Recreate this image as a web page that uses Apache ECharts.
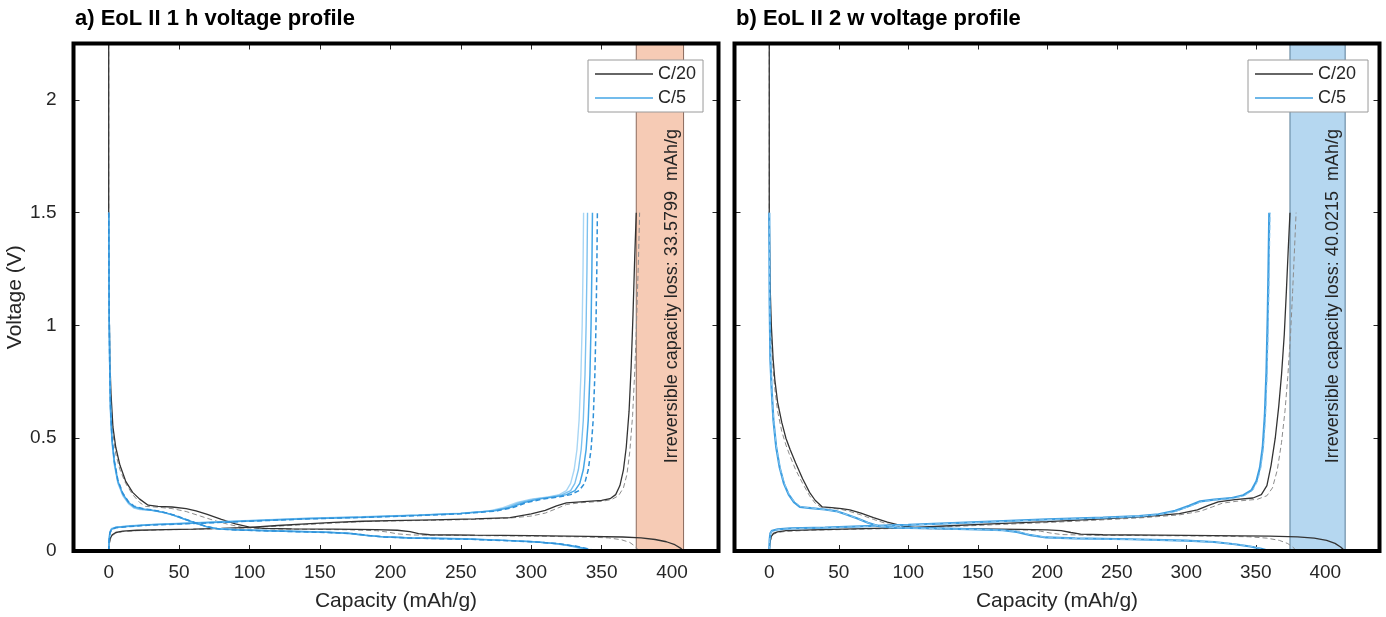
<!DOCTYPE html>
<html>
<head>
<meta charset="utf-8">
<script src="https://cdn.jsdelivr.net/npm/echarts@6/dist/echarts.min.js"></script>
<style>
  html, body { margin: 0; padding: 0; background: #fff; }
  #main { width: 1386px; height: 617px; }
</style>
</head>
<body>
<div id="main"></div>
<script>
// ---- axis ticks ----
const capTicks = [0, 50, 100, 150, 200, 250, 300, 350, 400]
const voltTicks = [0, 0.5, 1, 1.5, 2]
const panelTitles = ['a) EoL II 1 h voltage profile', 'b) EoL II 2 w voltage profile']

// ---- irreversible capacity loss (start / end capacity, mAh/g) ----
const aLossRange = [374.6, 408.2]
const bLossRange = [374.6, 414.3]
const lossValues = ['33.5799', '40.0215']

// ---- panel a : C/20 (solid + dashed repeat), [capacity, voltage] ----
const aC20Dis = [[0,2.25],[0,1.5],[0.3,1.1],[0.8,0.85],[1.6,0.7],[3,0.55],[5,0.46],[8,0.38],[12,0.31],[17,0.26],[22,0.23],[28,0.203],[35,0.198],[45,0.195],[55,0.188],[62,0.178],[70,0.162],[80,0.14],[90,0.12],[100,0.106],[110,0.1],[130,0.098],[160,0.097],[190,0.095],[205,0.092],[214,0.086],[220,0.077],[228,0.072],[260,0.07],[300,0.068],[340,0.065],[365,0.062],[378,0.058],[388,0.051],[396,0.041],[402,0.028],[406,0.013],[408.2,0]]
const aC20Chg = [[0,0],[0.3,0.03],[1,0.055],[2.5,0.072],[5,0.082],[10,0.088],[20,0.092],[40,0.095],[60,0.097],[80,0.1],[100,0.105],[120,0.113],[140,0.12],[160,0.127],[180,0.132],[200,0.135],[230,0.138],[260,0.142],[285,0.148],[300,0.165],[310,0.18],[318,0.2],[325,0.213],[335,0.218],[350,0.224],[356,0.232],[360,0.25],[363,0.29],[365.5,0.36],[367.5,0.46],[369.5,0.62],[371,0.82],[372.3,1.05],[373.5,1.3],[374.6,1.5]]
const aC20Dis2 = [[0,2.25],[0,1.5],[0.3,1.05],[0.8,0.82],[1.6,0.66],[3,0.52],[5,0.43],[8,0.36],[12,0.3],[17,0.25],[22,0.215],[26,0.198],[35,0.194],[45,0.188],[55,0.175],[65,0.155],[75,0.135],[85,0.118],[95,0.105],[110,0.098],[140,0.096],[170,0.094],[190,0.09],[198,0.084],[205,0.076],[215,0.071],[250,0.069],[300,0.066],[340,0.062],[355,0.058],[364,0.05],[370,0.038],[374,0.02],[376.5,0]]
const aC20Chg2 = [[0,0],[0.3,0.025],[1,0.05],[2.5,0.068],[5,0.079],[10,0.086],[20,0.09],[40,0.094],[60,0.096],[80,0.099],[100,0.103],[120,0.11],[140,0.117],[160,0.124],[180,0.13],[200,0.133],[230,0.136],[260,0.14],[285,0.146],[300,0.155],[310,0.168],[318,0.188],[325,0.206],[335,0.214],[350,0.22],[357,0.228],[362,0.245],[365.5,0.28],[368,0.34],[370,0.44],[372,0.6],[373.7,0.82],[375,1.05],[376.2,1.3],[377,1.5]]

// ---- panel a : C/5 cycles ----
const aC5Dis1 = [[0,1.5],[0.3,1.05],[0.7,0.8],[1.3,0.6],[2.3,0.48],[4,0.38],[6.5,0.3],[10,0.245],[14,0.21],[18,0.19],[22,0.184],[30,0.18],[38,0.172],[45,0.16],[52,0.145],[60,0.127],[68,0.11],[76,0.1],[90,0.095],[120,0.09],[150,0.085],[168,0.08],[178,0.072],[190,0.065],[210,0.06],[250,0.055],[280,0.048],[300,0.042],[315,0.034],[327,0.023],[335,0.011],[340,0]]
const aC5Dis2 = [[0,1.5],[0.3,1.07],[0.7,0.82],[1.3,0.62],[2.3,0.49],[4,0.39],[6.5,0.305],[10,0.25],[14,0.213],[18,0.193],[23,0.185],[31,0.18],[39,0.171],[46,0.158],[53,0.143],[61,0.125],[69,0.109],[77,0.099],[92,0.094],[122,0.089],[152,0.084],[170,0.079],[180,0.071],[192,0.064],[212,0.059],[252,0.054],[282,0.047],[302,0.041],[317,0.033],[329,0.022],[337,0.01],[342,0]]
const aC5Dis3 = [[0,1.5],[0.3,1.08],[0.7,0.83],[1.3,0.63],[2.3,0.5],[4,0.395],[6.5,0.31],[10,0.253],[14,0.216],[18,0.196],[24,0.186],[32,0.18],[40,0.17],[47,0.157],[54,0.141],[62,0.123],[70,0.107],[78,0.098],[94,0.093],[124,0.088],[154,0.083],[172,0.078],[182,0.07],[194,0.063],[214,0.058],[254,0.053],[284,0.046],[304,0.04],[319,0.032],[331,0.021],[339,0.01],[344,0]]
const aC5Dis4 = [[0,1.5],[0.3,1.09],[0.7,0.84],[1.3,0.64],[2.3,0.51],[4,0.4],[6.5,0.315],[10,0.256],[14,0.219],[18,0.199],[25,0.187],[33,0.18],[41,0.169],[48,0.156],[55,0.14],[63,0.122],[71,0.106],[79,0.097],[96,0.092],[126,0.087],[156,0.082],[174,0.077],[184,0.069],[196,0.062],[216,0.057],[256,0.052],[286,0.045],[306,0.039],[321,0.031],[333,0.02],[341,0.009],[346,0]]
const aC5Chg1 = [[0,0],[0.3,0.05],[0.8,0.085],[2,0.1],[5,0.106],[15,0.112],[30,0.118],[60,0.125],[100,0.135],[140,0.145],[180,0.152],[220,0.16],[250,0.168],[270,0.178],[280,0.192],[290,0.215],[300,0.23],[312,0.24],[320,0.25],[325,0.268],[328,0.3],[330.5,0.36],[332.5,0.45],[334,0.58],[335.3,0.78],[336.2,1.0],[336.8,1.25],[337.2,1.5]]
const aC5Chg2 = [[0,0],[0.3,0.048],[0.8,0.083],[2,0.098],[5,0.105],[15,0.111],[30,0.117],[60,0.124],[100,0.134],[140,0.144],[180,0.151],[220,0.159],[250,0.167],[272,0.178],[283,0.193],[292,0.215],[302,0.23],[314,0.24],[322,0.25],[328,0.268],[331,0.3],[333.5,0.36],[335.5,0.45],[337,0.58],[338.2,0.78],[339,1.0],[339.6,1.25],[340,1.5]]
const aC5Chg3 = [[0,0],[0.3,0.046],[0.8,0.08],[2,0.096],[5,0.104],[15,0.11],[30,0.116],[60,0.123],[100,0.133],[140,0.143],[180,0.15],[220,0.158],[250,0.166],[274,0.178],[285,0.193],[295,0.215],[305,0.23],[317,0.24],[325,0.25],[331,0.268],[334.5,0.3],[337,0.36],[339,0.45],[340.5,0.58],[341.7,0.78],[342.5,1.0],[343.1,1.25],[343.5,1.5]]
const aC5Chg4 = [[0,0],[0.3,0.045],[0.8,0.078],[2,0.095],[5,0.103],[15,0.109],[30,0.115],[60,0.122],[100,0.132],[140,0.142],[180,0.149],[220,0.157],[250,0.165],[276,0.178],[287,0.193],[297,0.215],[308,0.23],[320,0.24],[328,0.25],[334,0.268],[338,0.3],[340.5,0.36],[342.5,0.45],[344,0.58],[345.2,0.78],[346,1.0],[346.6,1.25],[347,1.5]]

// ---- panel b : C/20 ----
const bC20Dis = [[0,2.25],[0,1.5],[0.5,1.2],[1.5,1.0],[2.8,0.85],[4,0.76],[6,0.66],[9,0.57],[12,0.5],[15,0.45],[19,0.39],[24,0.32],[29,0.26],[33,0.225],[38,0.196],[45,0.192],[52,0.188],[58,0.182],[66,0.168],[75,0.148],[85,0.128],[95,0.112],[105,0.103],[120,0.1],[150,0.098],[180,0.096],[200,0.094],[210,0.09],[217,0.082],[224,0.075],[240,0.072],[280,0.07],[320,0.068],[360,0.066],[380,0.063],[392,0.057],[401,0.047],[407,0.034],[411,0.018],[414.3,0]]
const bC20Chg = [[0,0],[0.5,0.04],[1.5,0.065],[3,0.078],[6,0.085],[12,0.09],[30,0.094],[60,0.098],[100,0.104],[130,0.112],[160,0.12],[200,0.13],[240,0.142],[270,0.152],[295,0.166],[308,0.182],[316,0.202],[323,0.218],[335,0.228],[348,0.235],[354,0.25],[358,0.29],[361,0.38],[364,0.5],[366.5,0.64],[368.5,0.78],[370.5,0.96],[372,1.15],[373.3,1.33],[374.6,1.5]]
const bC20Dis2 = [[0,2.25],[0,1.5],[0.5,1.15],[1.5,0.95],[2.8,0.8],[4,0.72],[6,0.62],[9,0.53],[12,0.47],[15,0.42],[19,0.36],[24,0.3],[29,0.245],[33,0.212],[37,0.195],[45,0.19],[52,0.184],[58,0.175],[66,0.16],[75,0.14],[85,0.12],[95,0.106],[105,0.1],[130,0.097],[160,0.095],[185,0.093],[195,0.088],[202,0.08],[210,0.073],[230,0.07],[280,0.068],[320,0.066],[345,0.063],[358,0.057],[367,0.047],[373,0.033],[377,0.016],[379,0]]
const bC20Chg2 = [[0,0],[0.5,0.035],[1.5,0.06],[3,0.074],[6,0.082],[12,0.087],[30,0.092],[60,0.096],[100,0.101],[130,0.108],[160,0.116],[200,0.126],[240,0.138],[270,0.148],[295,0.16],[310,0.176],[319,0.196],[326,0.212],[338,0.222],[351,0.229],[358,0.245],[362,0.28],[365.5,0.36],[368.5,0.48],[371,0.62],[373,0.77],[375,0.96],[376.5,1.15],[377.8,1.33],[379,1.5]]

// ---- panel b : C/5 ----
const bC5Dis1 = [[0,1.5],[0.3,1.1],[0.8,0.85],[1.7,0.72],[3,0.58],[5,0.46],[7.5,0.37],[10.5,0.3],[14,0.25],[18,0.215],[22,0.195],[30,0.19],[40,0.184],[48,0.177],[55,0.163],[63,0.145],[71,0.125],[79,0.11],[90,0.104],[120,0.1],[150,0.096],[168,0.092],[178,0.085],[188,0.07],[199,0.06],[220,0.056],[260,0.052],[300,0.046],[320,0.04],[335,0.03],[346,0.02],[354,0.01],[360,0]]
const bC5Chg1 = [[0,0],[0.3,0.05],[0.8,0.078],[2,0.09],[6,0.096],[15,0.1],[40,0.104],[70,0.11],[100,0.116],[150,0.128],[200,0.14],[240,0.148],[266,0.155],[280,0.163],[292,0.178],[302,0.2],[310,0.22],[320,0.228],[332,0.234],[341,0.247],[347,0.27],[350.5,0.31],[353,0.37],[355,0.46],[356.5,0.6],[357.7,0.8],[358.6,1.05],[359.2,1.28],[359.7,1.5]]
const bC5Dis2 = [[0,1.5],[0.3,1.12],[0.8,0.87],[1.7,0.73],[3,0.59],[5,0.47],[7.5,0.375],[10.5,0.305],[14,0.254],[18,0.218],[23,0.196],[31,0.19],[41,0.183],[49,0.175],[56,0.161],[64,0.143],[72,0.123],[80,0.109],[92,0.103],[122,0.099],[152,0.095],[170,0.091],[180,0.084],[190,0.069],[201,0.059],[222,0.055],[262,0.051],[302,0.045],[322,0.039],[337,0.029],[348,0.019],[355,0.009],[361,0]]
const bC5Chg2 = [[0,0],[0.3,0.048],[0.8,0.076],[2,0.089],[6,0.095],[15,0.099],[40,0.103],[70,0.109],[100,0.115],[150,0.127],[200,0.139],[240,0.147],[266,0.154],[281,0.162],[293,0.177],[303,0.199],[311,0.219],[321,0.227],[333,0.233],[342,0.246],[348,0.27],[351.3,0.31],[353.7,0.37],[355.6,0.46],[357.1,0.6],[358.3,0.8],[359.2,1.05],[359.8,1.28],[360.3,1.5]]

const BLACK = '#333333'
const GREY = '#8c8c8c'
const FONT = 'Liberation Sans, Arial, sans-serif'

const chart = echarts.init(document.getElementById('main'))

// 一条曲线
function curve (name, data, idx, color, width, dashed, z) {
  return {
    name: name,
    type: 'line',
    xAxisIndex: idx,
    yAxisIndex: idx,
    data: data,
    symbol: 'none',
    silent: true,
    z: z || 2,
    lineStyle: { color: color, width: width, type: dashed ? [5, 3] : 'solid' },
    itemStyle: { color: color }
  }
}

// 不可逆容量损失的阴影区
function lossArea (range, fill, border) {
  return {
    silent: true,
    itemStyle: { color: fill, borderColor: border, borderWidth: 1 },
    label: { show: false },
    data: [[{ xAxis: range[0] }, { xAxis: range[1] }]]
  }
}

const grids = [
  { left: 73.5, top: 43.5, width: 645, height: 508 },
  { left: 734.5, top: 43.5, width: 645, height: 508 }
]

function xAx (gi, max, pos) {
  const bottom = pos === 'bottom'
  return {
    type: 'value', gridIndex: gi, position: pos, min: -25, max: max,
    name: bottom ? 'Capacity (mAh/g)' : '',
    nameLocation: 'middle', nameGap: 40,
    nameTextStyle: { fontSize: 21, color: '#262626', fontFamily: FONT },
    axisLine: { show: false, onZero: false },
    axisTick: { show: true, inside: true, length: 6, customValues: capTicks, lineStyle: { color: '#262626', width: 1 } },
    axisLabel: { show: bottom, customValues: capTicks, fontSize: 19, color: '#262626', margin: 12, fontFamily: FONT },
    splitLine: { show: false }
  }
}

function yAx (gi, pos, labels) {
  return {
    type: 'value', gridIndex: gi, position: pos, min: 0, max: 2.25,
    name: labels ? 'Voltage (V)' : '',
    nameLocation: 'middle', nameGap: 36,
    nameTextStyle: { fontSize: 21, color: '#262626', fontFamily: FONT },
    axisLine: { show: false, onZero: false },
    axisTick: { show: true, inside: true, length: 6, customValues: voltTicks, lineStyle: { color: '#262626', width: 1 } },
    axisLabel: { show: labels, customValues: voltTicks, fontSize: 19, color: '#262626', margin: 17, fontFamily: FONT },
    splitLine: { show: false }
  }
}

function legendAt (left, names) {
  return {
    left: left, top: 60, orient: 'vertical', data: names,
    icon: 'rect', itemWidth: 58, itemHeight: 1.5, itemGap: 6, padding: [5, 7, 5, 7],
    borderColor: '#9a9a9a', borderWidth: 1, backgroundColor: '#fff',
    textStyle: { fontSize: 18, color: '#262626', fontFamily: FONT, lineHeight: 18 },
    selectedMode: false, z: 20
  }
}

const aHost = curve('a-c20-2', aC20Dis2, 0, GREY, 1, true, 1)
aHost.markArea = lossArea(aLossRange, '#f6cbb5', '#8a6a5c')
const bHost = curve('b-c20-2', bC20Dis2, 1, GREY, 1, true, 1)
bHost.markArea = lossArea(bLossRange, '#b5d7f0', '#5a7d98')

const option = {
  animation: false,
  backgroundColor: '#fff',
  textStyle: { fontFamily: FONT },
  title: panelTitles.map((t, i) => ({
    text: t, left: i === 0 ? 75 : 736, top: 8, padding: 0,
    textStyle: { fontSize: 22, fontWeight: 'bold', color: '#000', fontFamily: FONT }
  })),
  grid: grids.map(g => Object.assign({ show: true, borderColor: '#000', borderWidth: 4, backgroundColor: 'transparent', z: 10 }, g)),
  xAxis: [xAx(0, 433, 'bottom'), xAx(1, 439, 'bottom'), xAx(0, 433, 'top'), xAx(1, 439, 'top')],
  yAxis: [yAx(0, 'left', true), yAx(1, 'left', false), yAx(0, 'right', false), yAx(1, 'right', false)],
  legend: [legendAt(588, ['C/20', 'C/5']), legendAt(1248, ['C/20 ', 'C/5 '])],
  series: [
    aHost,
    curve('a-c20-2', aC20Chg2, 0, GREY, 1, true),
    curve('C/20', aC20Dis, 0, BLACK, 1.3),
    curve('C/20', aC20Chg, 0, BLACK, 1.3),
    curve('a-c5-1', aC5Dis1, 0, '#a8d6f4', 1.4),
    curve('a-c5-1', aC5Chg1, 0, '#a8d6f4', 1.4),
    curve('a-c5-2', aC5Dis2, 0, '#7cc1ef', 1.4),
    curve('a-c5-2', aC5Chg2, 0, '#7cc1ef', 1.4),
    curve('C/5', aC5Dis3, 0, '#45a6e6', 1.5),
    curve('C/5', aC5Chg3, 0, '#45a6e6', 1.5),
    curve('a-c5-4', aC5Dis4, 0, '#2e90d8', 1.5, true),
    curve('a-c5-4', aC5Chg4, 0, '#2e90d8', 1.5, true),

    bHost,
    curve('b-c20-2', bC20Chg2, 1, GREY, 1, true),
    curve('C/20 ', bC20Dis, 1, BLACK, 1.3),
    curve('C/20 ', bC20Chg, 1, BLACK, 1.3),
    curve('C/5 ', bC5Dis1, 1, '#3e9fe1', 2.2),
    curve('C/5 ', bC5Chg1, 1, '#3e9fe1', 2.2),
    curve('b-c5-2', bC5Dis2, 1, '#8ac6ef', 1, true),
    curve('b-c5-2', bC5Chg2, 1, '#8ac6ef', 1, true)
  ]
}
chart.setOption(option)

// 阴影区里的竖排文字：贴近阴影区右边，位置由坐标换算得到
function lossText (gi, range, value) {
  const p = chart.convertToPixel({ xAxisIndex: gi, yAxisIndex: gi }, [range[1], 1.13])
  return {
    type: 'text', x: p[0] - 12, y: p[1], rotation: Math.PI / 2, z: 15,
    style: {
      text: 'Irreversible capacity loss: ' + value + '  mAh/g',
      fontSize: 18, fill: '#262626', fontFamily: FONT,
      align: 'center', verticalAlign: 'middle'
    }
  }
}
chart.setOption({
  graphic: [lossText(0, aLossRange, lossValues[0]), lossText(1, bLossRange, lossValues[1])]
})
</script>
</body>
</html>
